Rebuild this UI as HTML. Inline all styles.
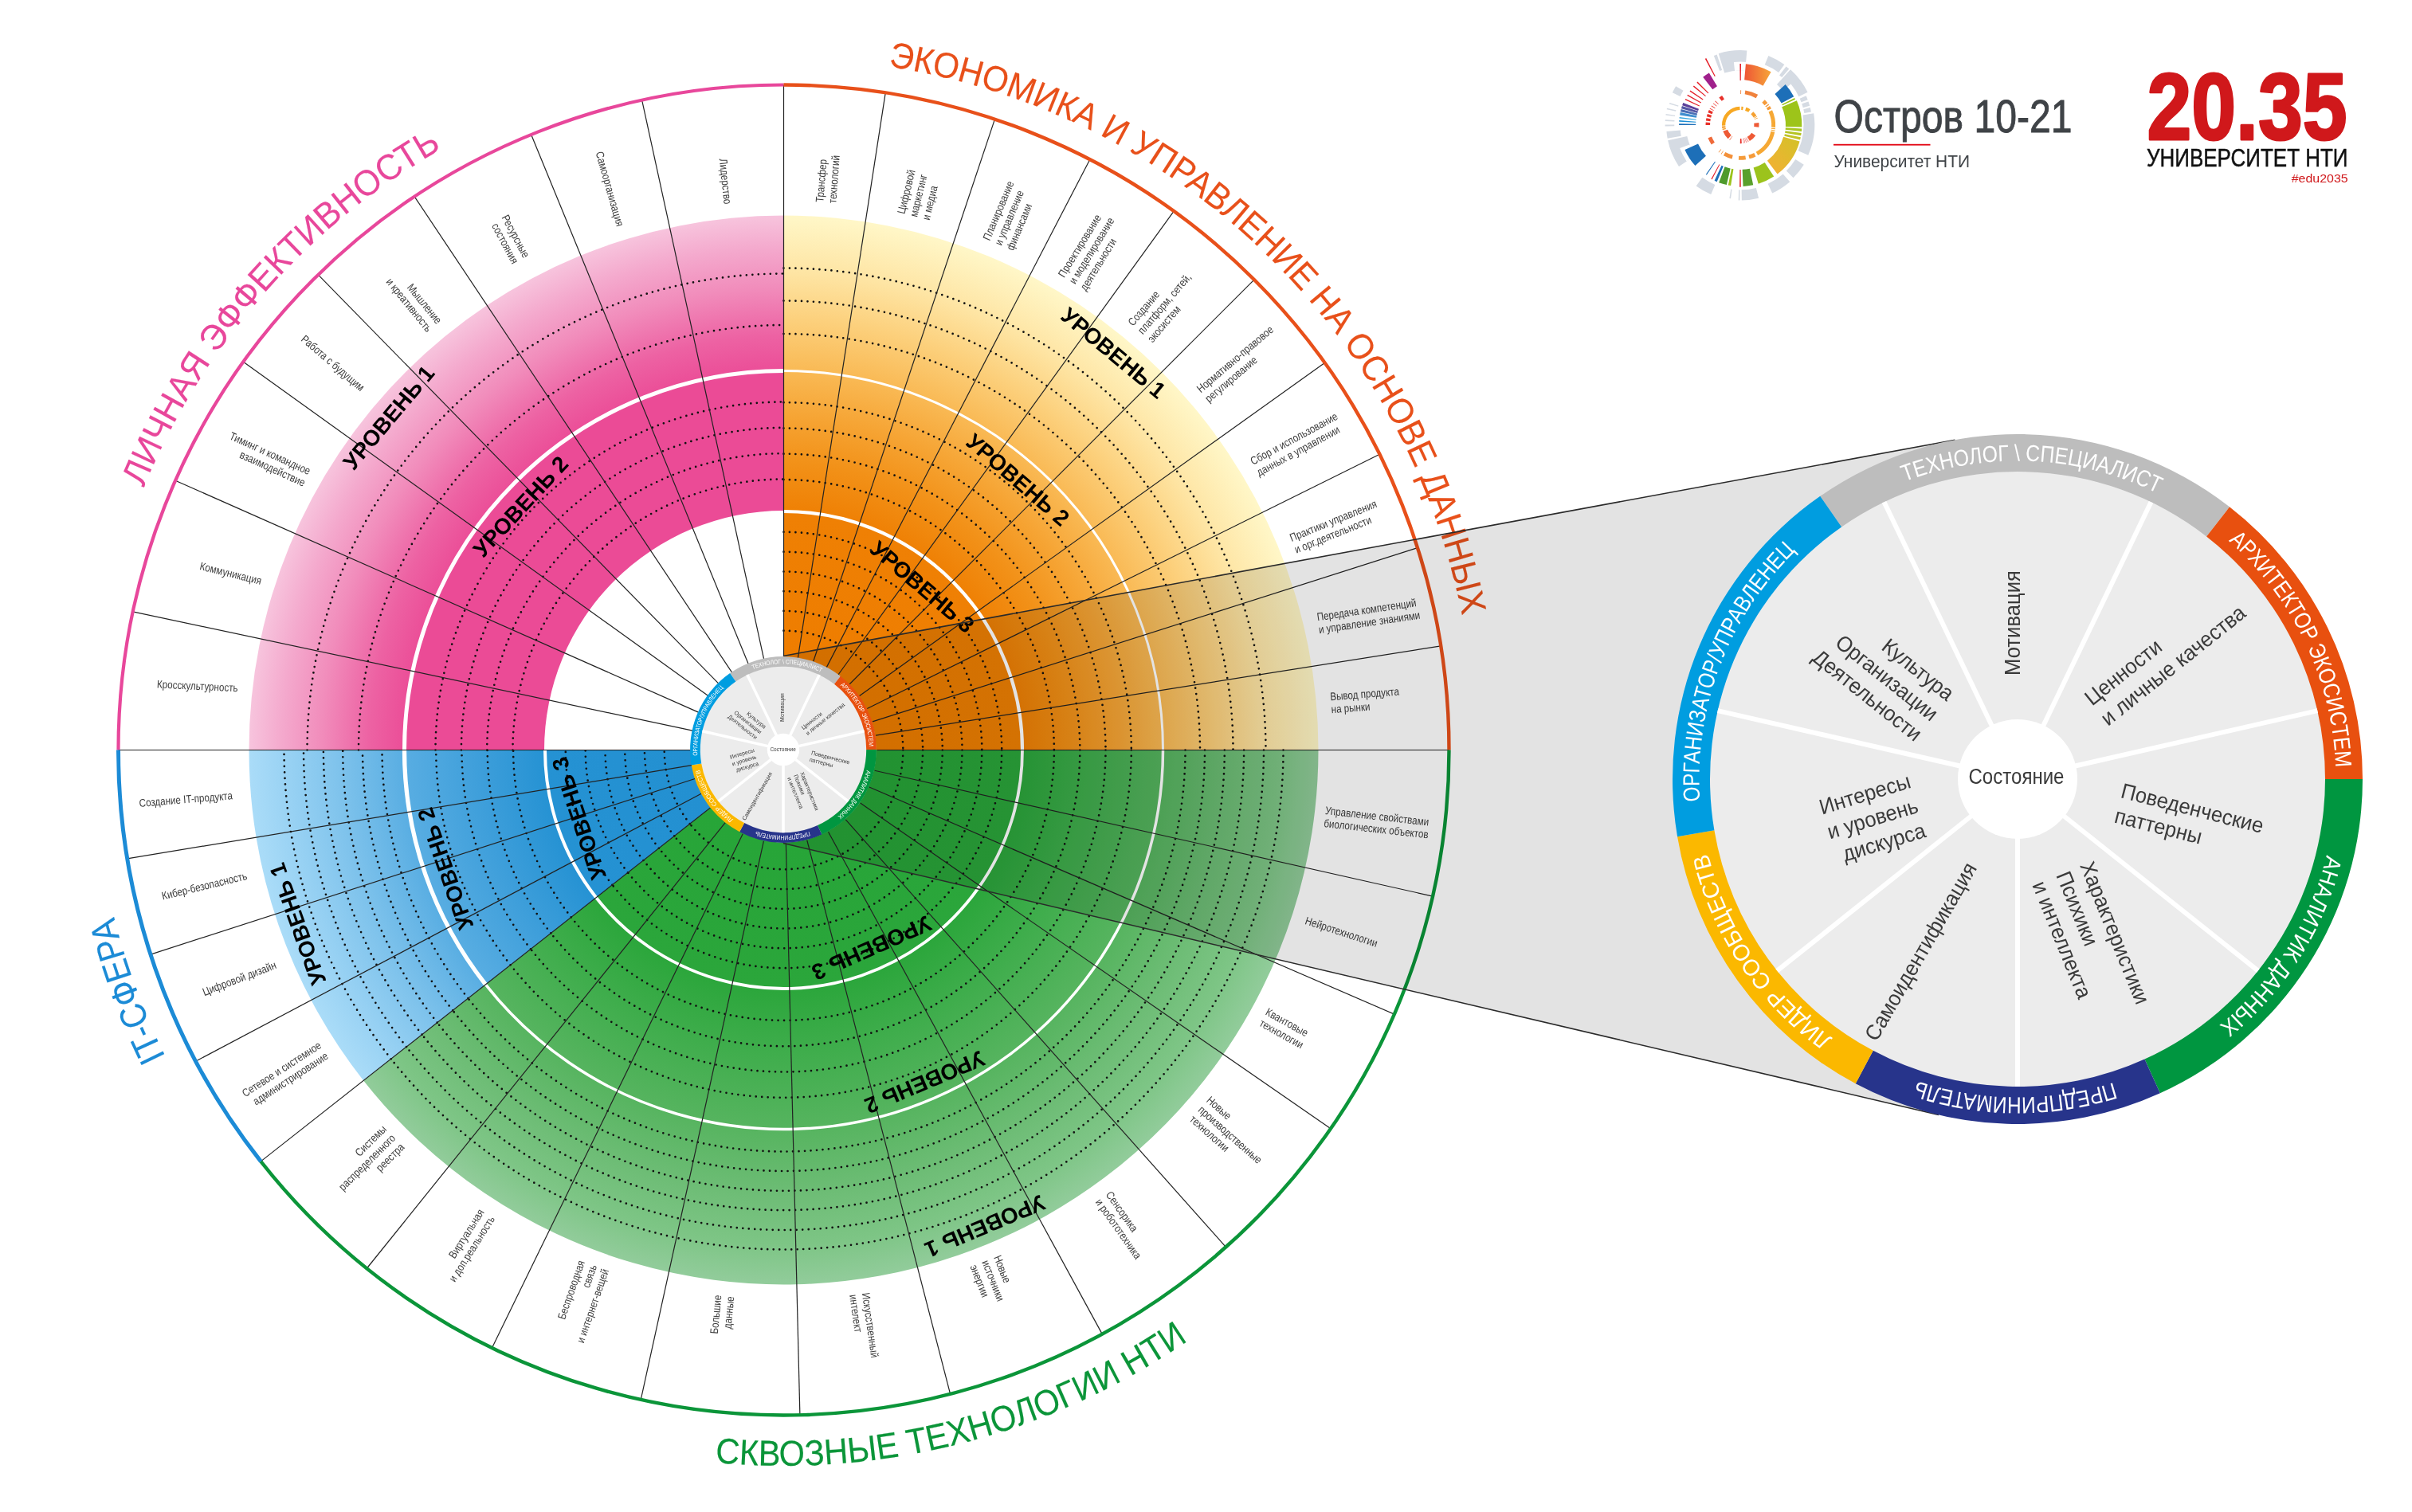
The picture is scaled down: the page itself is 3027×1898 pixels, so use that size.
<!DOCTYPE html>
<html lang="ru"><head><meta charset="utf-8"><title>Модель компетенций</title>
<style>html,body{margin:0;padding:0;background:#fff}svg{display:block;will-change:opacity}</style></head>
<body>
<svg width="3027" height="1898" viewBox="0 0 3027 1898">
<defs>
<radialGradient id="gp" gradientUnits="userSpaceOnUse" cx="983.5" cy="941.5" r="671">
<stop offset="0.4471" stop-color="#EB4B96"/>
<stop offset="0.7004" stop-color="#EB4B96"/>
<stop offset="0.7750" stop-color="#ED62A3"/>
<stop offset="0.8644" stop-color="#F18CBB"/>
<stop offset="0.9389" stop-color="#F4A9CD"/>
<stop offset="1.0000" stop-color="#F7C4DD"/>
</radialGradient>
<radialGradient id="go" gradientUnits="userSpaceOnUse" cx="983.5" cy="941.5" r="671">
<stop offset="0.1759" stop-color="#EE7D00"/>
<stop offset="0.4456" stop-color="#EF8004"/>
<stop offset="0.5365" stop-color="#F29118"/>
<stop offset="0.6259" stop-color="#F6A535"/>
<stop offset="0.7079" stop-color="#F9B954"/>
<stop offset="0.8048" stop-color="#FCD07C"/>
<stop offset="0.8942" stop-color="#FEE5A4"/>
<stop offset="1.0000" stop-color="#FFF7C8"/>
</radialGradient>
<radialGradient id="gg" gradientUnits="userSpaceOnUse" cx="983.5" cy="941.5" r="671">
<stop offset="0.1759" stop-color="#27A538"/>
<stop offset="0.4456" stop-color="#2BA63B"/>
<stop offset="0.5663" stop-color="#3FAD4C"/>
<stop offset="0.7079" stop-color="#56B45F"/>
<stop offset="0.8346" stop-color="#6EBD76"/>
<stop offset="0.9240" stop-color="#7DC585"/>
<stop offset="1.0000" stop-color="#92CC9B"/>
</radialGradient>
<radialGradient id="gb" gradientUnits="userSpaceOnUse" cx="983.5" cy="941.5" r="671">
<stop offset="0.1759" stop-color="#2390D1"/>
<stop offset="0.4456" stop-color="#2592D3"/>
<stop offset="0.5663" stop-color="#3D9EDA"/>
<stop offset="0.7079" stop-color="#58ADE2"/>
<stop offset="0.8346" stop-color="#7FC3EC"/>
<stop offset="0.9240" stop-color="#97D1F3"/>
<stop offset="1.0000" stop-color="#AADCF8"/>
</radialGradient>
</defs>
<g id="main">
<path d="M312.5 941.5A671 671 0 0 1 983.5 270.5L983.5 641A300.5 300.5 0 0 0 683 941.5Z" fill="url(#gp)"/>
<path d="M983.5 270.5A671 671 0 0 1 1654.5 941.5L1099.5 941.5A116 116 0 0 0 983.5 825.5Z" fill="url(#go)"/>
<path d="M1654.5 941.5A671 671 0 0 1 456.19 1356.45L892.34 1013.24A116 116 0 0 0 1099.5 941.5Z" fill="url(#gg)"/>
<path d="M456.19 1356.45A671 671 0 0 1 312.5 941.5L867.5 941.5A116 116 0 0 0 892.34 1013.24Z" fill="url(#gb)"/>
<path d="M385.5 941.5A598 598 0 0 1 983.5 343.5" fill="none" stroke="#111" stroke-width="2.7" stroke-linecap="round" stroke-dasharray="0 7.5"/>
<path d="M450 941.5A533.5 533.5 0 0 1 983.5 408" fill="none" stroke="#111" stroke-width="2.7" stroke-linecap="round" stroke-dasharray="0 7.5"/>
<path d="M546.5 941.5A437 437 0 0 1 983.5 504.5" fill="none" stroke="#111" stroke-width="2.7" stroke-linecap="round" stroke-dasharray="0 7.5"/>
<path d="M578.9 941.5A404.6 404.6 0 0 1 983.5 536.9" fill="none" stroke="#111" stroke-width="2.7" stroke-linecap="round" stroke-dasharray="0 7.5"/>
<path d="M611.2 941.5A372.3 372.3 0 0 1 983.5 569.2" fill="none" stroke="#111" stroke-width="2.7" stroke-linecap="round" stroke-dasharray="0 7.5"/>
<path d="M643.5 941.5A340 340 0 0 1 983.5 601.5" fill="none" stroke="#111" stroke-width="2.7" stroke-linecap="round" stroke-dasharray="0 7.5"/>
<path d="M983.5 336.5A605 605 0 0 1 1588.5 941.5" fill="none" stroke="#111" stroke-width="2.7" stroke-linecap="round" stroke-dasharray="0 7.5"/>
<path d="M983.5 377.5A564 564 0 0 1 1547.5 941.5" fill="none" stroke="#111" stroke-width="2.7" stroke-linecap="round" stroke-dasharray="0 7.5"/>
<path d="M983.5 419A522.5 522.5 0 0 1 1506 941.5" fill="none" stroke="#111" stroke-width="2.7" stroke-linecap="round" stroke-dasharray="0 7.5"/>
<path d="M983.5 505.2A436.3 436.3 0 0 1 1419.8 941.5" fill="none" stroke="#111" stroke-width="2.7" stroke-linecap="round" stroke-dasharray="0 7.5"/>
<path d="M983.5 537.5A404 404 0 0 1 1387.5 941.5" fill="none" stroke="#111" stroke-width="2.7" stroke-linecap="round" stroke-dasharray="0 7.5"/>
<path d="M983.5 569.7A371.8 371.8 0 0 1 1355.3 941.5" fill="none" stroke="#111" stroke-width="2.7" stroke-linecap="round" stroke-dasharray="0 7.5"/>
<path d="M983.5 602.1A339.4 339.4 0 0 1 1322.9 941.5" fill="none" stroke="#111" stroke-width="2.7" stroke-linecap="round" stroke-dasharray="0 7.5"/>
<path d="M983.5 667.8A273.7 273.7 0 0 1 1257.2 941.5" fill="none" stroke="#111" stroke-width="2.7" stroke-linecap="round" stroke-dasharray="0 7.5"/>
<path d="M983.5 692.7A248.8 248.8 0 0 1 1232.3 941.5" fill="none" stroke="#111" stroke-width="2.7" stroke-linecap="round" stroke-dasharray="0 7.5"/>
<path d="M983.5 717.5A224 224 0 0 1 1207.5 941.5" fill="none" stroke="#111" stroke-width="2.7" stroke-linecap="round" stroke-dasharray="0 7.5"/>
<path d="M983.5 742.2A199.3 199.3 0 0 1 1182.8 941.5" fill="none" stroke="#111" stroke-width="2.7" stroke-linecap="round" stroke-dasharray="0 7.5"/>
<path d="M983.5 766.9A174.6 174.6 0 0 1 1158.1 941.5" fill="none" stroke="#111" stroke-width="2.7" stroke-linecap="round" stroke-dasharray="0 7.5"/>
<path d="M983.5 791.7A149.8 149.8 0 0 1 1133.3 941.5" fill="none" stroke="#111" stroke-width="2.7" stroke-linecap="round" stroke-dasharray="0 7.5"/>
<path d="M1610.5 941.5A627 627 0 0 1 490.77 1329.24" fill="none" stroke="#111" stroke-width="2.7" stroke-linecap="round" stroke-dasharray="0 7.5"/>
<path d="M1586 941.5A602.5 602.5 0 0 1 510.02 1314.09" fill="none" stroke="#111" stroke-width="2.7" stroke-linecap="round" stroke-dasharray="0 7.5"/>
<path d="M1561.1 941.5A577.6 577.6 0 0 1 529.59 1298.69" fill="none" stroke="#111" stroke-width="2.7" stroke-linecap="round" stroke-dasharray="0 7.5"/>
<path d="M1536.8 941.5A553.3 553.3 0 0 1 548.69 1283.67" fill="none" stroke="#111" stroke-width="2.7" stroke-linecap="round" stroke-dasharray="0 7.5"/>
<path d="M1512 941.5A528.5 528.5 0 0 1 568.17 1268.33" fill="none" stroke="#111" stroke-width="2.7" stroke-linecap="round" stroke-dasharray="0 7.5"/>
<path d="M1487.5 941.5A504 504 0 0 1 587.43 1253.18" fill="none" stroke="#111" stroke-width="2.7" stroke-linecap="round" stroke-dasharray="0 7.5"/>
<path d="M1419.8 941.5A436.3 436.3 0 0 1 640.63 1211.31" fill="none" stroke="#111" stroke-width="2.7" stroke-linecap="round" stroke-dasharray="0 7.5"/>
<path d="M1387.5 941.5A404 404 0 0 1 666.01 1191.34" fill="none" stroke="#111" stroke-width="2.7" stroke-linecap="round" stroke-dasharray="0 7.5"/>
<path d="M1355.3 941.5A371.8 371.8 0 0 1 691.32 1171.42" fill="none" stroke="#111" stroke-width="2.7" stroke-linecap="round" stroke-dasharray="0 7.5"/>
<path d="M1322.9 941.5A339.4 339.4 0 0 1 716.78 1151.39" fill="none" stroke="#111" stroke-width="2.7" stroke-linecap="round" stroke-dasharray="0 7.5"/>
<path d="M1257.2 941.5A273.7 273.7 0 0 1 768.41 1110.76" fill="none" stroke="#111" stroke-width="2.7" stroke-linecap="round" stroke-dasharray="0 7.5"/>
<path d="M1232.3 941.5A248.8 248.8 0 0 1 787.98 1095.36" fill="none" stroke="#111" stroke-width="2.7" stroke-linecap="round" stroke-dasharray="0 7.5"/>
<path d="M1207.5 941.5A224 224 0 0 1 807.47 1080.02" fill="none" stroke="#111" stroke-width="2.7" stroke-linecap="round" stroke-dasharray="0 7.5"/>
<path d="M1182.8 941.5A199.3 199.3 0 0 1 826.88 1064.75" fill="none" stroke="#111" stroke-width="2.7" stroke-linecap="round" stroke-dasharray="0 7.5"/>
<path d="M1158.1 941.5A174.6 174.6 0 0 1 846.29 1049.47" fill="none" stroke="#111" stroke-width="2.7" stroke-linecap="round" stroke-dasharray="0 7.5"/>
<path d="M1133.3 941.5A149.8 149.8 0 0 1 865.78 1034.14" fill="none" stroke="#111" stroke-width="2.7" stroke-linecap="round" stroke-dasharray="0 7.5"/>
<path d="M490.77 1329.24A627 627 0 0 1 356.5 941.5" fill="none" stroke="#111" stroke-width="2.7" stroke-linecap="round" stroke-dasharray="0 7.5"/>
<path d="M510.02 1314.09A602.5 602.5 0 0 1 381 941.5" fill="none" stroke="#111" stroke-width="2.7" stroke-linecap="round" stroke-dasharray="0 7.5"/>
<path d="M529.59 1298.69A577.6 577.6 0 0 1 405.9 941.5" fill="none" stroke="#111" stroke-width="2.7" stroke-linecap="round" stroke-dasharray="0 7.5"/>
<path d="M548.69 1283.67A553.3 553.3 0 0 1 430.2 941.5" fill="none" stroke="#111" stroke-width="2.7" stroke-linecap="round" stroke-dasharray="0 7.5"/>
<path d="M568.17 1268.33A528.5 528.5 0 0 1 455 941.5" fill="none" stroke="#111" stroke-width="2.7" stroke-linecap="round" stroke-dasharray="0 7.5"/>
<path d="M587.43 1253.18A504 504 0 0 1 479.5 941.5" fill="none" stroke="#111" stroke-width="2.7" stroke-linecap="round" stroke-dasharray="0 7.5"/>
<path d="M640.63 1211.31A436.3 436.3 0 0 1 547.2 941.5" fill="none" stroke="#111" stroke-width="2.7" stroke-linecap="round" stroke-dasharray="0 7.5"/>
<path d="M666.01 1191.34A404 404 0 0 1 579.5 941.5" fill="none" stroke="#111" stroke-width="2.7" stroke-linecap="round" stroke-dasharray="0 7.5"/>
<path d="M691.32 1171.42A371.8 371.8 0 0 1 611.7 941.5" fill="none" stroke="#111" stroke-width="2.7" stroke-linecap="round" stroke-dasharray="0 7.5"/>
<path d="M716.78 1151.39A339.4 339.4 0 0 1 644.1 941.5" fill="none" stroke="#111" stroke-width="2.7" stroke-linecap="round" stroke-dasharray="0 7.5"/>
<path d="M768.41 1110.76A273.7 273.7 0 0 1 709.8 941.5" fill="none" stroke="#111" stroke-width="2.7" stroke-linecap="round" stroke-dasharray="0 7.5"/>
<path d="M787.98 1095.36A248.8 248.8 0 0 1 734.7 941.5" fill="none" stroke="#111" stroke-width="2.7" stroke-linecap="round" stroke-dasharray="0 7.5"/>
<path d="M807.47 1080.02A224 224 0 0 1 759.5 941.5" fill="none" stroke="#111" stroke-width="2.7" stroke-linecap="round" stroke-dasharray="0 7.5"/>
<path d="M826.88 1064.75A199.3 199.3 0 0 1 784.2 941.5" fill="none" stroke="#111" stroke-width="2.7" stroke-linecap="round" stroke-dasharray="0 7.5"/>
<path d="M846.29 1049.47A174.6 174.6 0 0 1 808.9 941.5" fill="none" stroke="#111" stroke-width="2.7" stroke-linecap="round" stroke-dasharray="0 7.5"/>
<path d="M865.78 1034.14A149.8 149.8 0 0 1 833.7 941.5" fill="none" stroke="#111" stroke-width="2.7" stroke-linecap="round" stroke-dasharray="0 7.5"/>
<path d="M507.5 941.5A476 476 0 0 1 983.5 465.5" fill="none" stroke="#fff" stroke-width="5"/>
<path d="M983.5 465.5A476 476 0 0 1 1459.5 941.5" fill="none" stroke="#fff" stroke-width="3"/>
<path d="M1459.5 941.5A476 476 0 0 1 609.43 1235.86" fill="none" stroke="#fff" stroke-width="3.5"/>
<path d="M609.43 1235.86A476 476 0 0 1 507.5 941.5" fill="none" stroke="#fff" stroke-width="5.3"/>
<path d="M983.5 642A299.5 299.5 0 0 1 1283 941.5" fill="none" stroke="#fff" stroke-width="4.2"/>
<path d="M1283 941.5A299.5 299.5 0 0 1 748.14 1126.71" fill="none" stroke="#fff" stroke-width="3.8"/>
<path d="M748.14 1126.71A299.5 299.5 0 0 1 684 941.5" fill="none" stroke="#fff" stroke-width="4"/>
<line x1="866.5" y1="941.5" x2="148.5" y2="941.5" stroke="#222" stroke-width="1.2"/>
<line x1="869.06" y1="917.17" x2="166.75" y2="767.89" stroke="#222" stroke-width="1.2"/>
<line x1="876.53" y1="894.1" x2="220.1" y2="603.21" stroke="#222" stroke-width="1.2"/>
<line x1="888.49" y1="873.23" x2="305.41" y2="454.24" stroke="#222" stroke-width="1.2"/>
<line x1="901.64" y1="857.91" x2="399.28" y2="344.92" stroke="#222" stroke-width="1.2"/>
<line x1="918.58" y1="844.16" x2="520.2" y2="246.82" stroke="#222" stroke-width="1.2"/>
<line x1="939.1" y1="833.25" x2="666.65" y2="168.95" stroke="#222" stroke-width="1.2"/>
<line x1="958.58" y1="827.19" x2="805.62" y2="125.67" stroke="#222" stroke-width="1.2"/>
<line x1="983.5" y1="824.5" x2="983.5" y2="106.5" stroke="#222" stroke-width="1.2"/>
<line x1="1001.4" y1="825.88" x2="1111.24" y2="116.33" stroke="#222" stroke-width="1.2"/>
<line x1="1020.62" y1="830.55" x2="1248.45" y2="149.65" stroke="#222" stroke-width="1.2"/>
<line x1="1037.34" y1="837.63" x2="1367.77" y2="200.17" stroke="#222" stroke-width="1.2"/>
<line x1="1052.11" y1="846.73" x2="1473.12" y2="265.12" stroke="#222" stroke-width="1.2"/>
<line x1="1066.23" y1="858.77" x2="1573.93" y2="351.07" stroke="#222" stroke-width="1.2"/>
<line x1="1078.63" y1="873.39" x2="1662.44" y2="455.43" stroke="#222" stroke-width="1.2"/>
<line x1="1088.3" y1="889.48" x2="1731.42" y2="570.23" stroke="#222" stroke-width="1.2"/>
<line x1="1094.96" y1="905.93" x2="1778.97" y2="687.63" stroke="#222" stroke-width="1.2"/>
<line x1="1099.06" y1="923.2" x2="1808.22" y2="810.88" stroke="#222" stroke-width="1.2"/>
<line x1="1100.5" y1="941.5" x2="1818.5" y2="941.5" stroke="#222" stroke-width="1.2"/>
<line x1="1097.64" y1="967.22" x2="1798.07" y2="1125.07" stroke="#222" stroke-width="1.2"/>
<line x1="1090.88" y1="987.97" x2="1749.83" y2="1273.12" stroke="#222" stroke-width="1.2"/>
<line x1="1079.69" y1="1008.11" x2="1669.99" y2="1416.85" stroke="#222" stroke-width="1.2"/>
<line x1="1061.26" y1="1028.92" x2="1538.42" y2="1565.43" stroke="#222" stroke-width="1.2"/>
<line x1="1039.51" y1="1044.22" x2="1383.21" y2="1674.62" stroke="#222" stroke-width="1.2"/>
<line x1="1012.79" y1="1054.77" x2="1192.57" y2="1749.9" stroke="#222" stroke-width="1.2"/>
<line x1="986.36" y1="1058.47" x2="1003.9" y2="1776.25" stroke="#222" stroke-width="1.2"/>
<line x1="958.38" y1="1055.77" x2="804.2" y2="1757.02" stroke="#222" stroke-width="1.2"/>
<line x1="932.21" y1="1046.66" x2="617.46" y2="1691.99" stroke="#222" stroke-width="1.2"/>
<line x1="910.19" y1="1032.68" x2="460.29" y2="1592.25" stroke="#222" stroke-width="1.2"/>
<line x1="891.55" y1="1013.85" x2="327.31" y2="1457.87" stroke="#222" stroke-width="1.2"/>
<line x1="880.1" y1="996.25" x2="245.56" y2="1332.22" stroke="#222" stroke-width="1.2"/>
<line x1="872.16" y1="977.46" x2="188.92" y2="1198.14" stroke="#222" stroke-width="1.2"/>
<line x1="868.07" y1="960.61" x2="159.71" y2="1077.88" stroke="#222" stroke-width="1.2"/>
<path d="M148.5 941.5A835 835 0 0 1 983.5 106.5" fill="none" stroke="#E8479B" stroke-width="4.2"/>
<path d="M983.5 106.5A835 835 0 0 1 1818.5 941.5" fill="none" stroke="#E8501A" stroke-width="4.4"/>
<path d="M1818.5 941.5A835 835 0 0 1 327.31 1457.87" fill="none" stroke="#0B9539" stroke-width="4.4"/>
<path d="M327.31 1457.87A835 835 0 0 1 148.5 941.5" fill="none" stroke="#1C8BD6" stroke-width="5"/>
<g transform="translate(298.27 869.48) rotate(362.8) translate(0 -6) scale(0.83 1)">
<text x="0" y="4.9" text-anchor="end" font-size="14" fill="#3c3c3c" font-family="'Liberation Sans', sans-serif">Кросскультурность</text>
</g>
<g transform="translate(328.04 729.16) rotate(373.95) translate(0 0) scale(0.83 1)">
<text x="0" y="4.9" text-anchor="end" font-size="14" fill="#3c3c3c" font-family="'Liberation Sans', sans-serif">Коммуникация</text>
</g>
<g transform="translate(385.61 599.08) rotate(384.5) translate(0 0) scale(0.83 1)">
<text x="0" y="-3.1" text-anchor="end" font-size="14" fill="#3c3c3c" font-family="'Liberation Sans', sans-serif">Тиминг и командное</text>
<text x="0" y="12.9" text-anchor="end" font-size="14" fill="#3c3c3c" font-family="'Liberation Sans', sans-serif">взаимодействие</text>
</g>
<g transform="translate(460.75 492.66) rotate(400.65) translate(-7 0) scale(0.83 1)">
<text x="0" y="4.9" text-anchor="end" font-size="14" fill="#3c3c3c" font-family="'Liberation Sans', sans-serif">Работа с будущим</text>
</g>
<g transform="translate(549.43 406.43) rotate(410.95) translate(0 5) scale(0.83 1)">
<text x="0" y="-3.1" text-anchor="end" font-size="14" fill="#3c3c3c" font-family="'Liberation Sans', sans-serif">Мышление</text>
<text x="0" y="12.9" text-anchor="end" font-size="14" fill="#3c3c3c" font-family="'Liberation Sans', sans-serif">и креативность</text>
</g>
<g transform="translate(660.03 333.15) rotate(422) translate(-9 2) scale(0.83 1)">
<text x="0" y="-3.1" text-anchor="end" font-size="14" fill="#3c3c3c" font-family="'Liberation Sans', sans-serif">Ресурсные</text>
<text x="0" y="12.9" text-anchor="end" font-size="14" fill="#3c3c3c" font-family="'Liberation Sans', sans-serif">состояния</text>
</g>
<g transform="translate(778.61 283.67) rotate(434.2) translate(0 0) scale(0.83 1)">
<text x="0" y="4.9" text-anchor="end" font-size="14" fill="#3c3c3c" font-family="'Liberation Sans', sans-serif">Самоорганизация</text>
</g>
<g transform="translate(909.69 256.47) rotate(443.85) translate(0 -4) scale(0.83 1)">
<text x="0" y="4.9" text-anchor="end" font-size="14" fill="#3c3c3c" font-family="'Liberation Sans', sans-serif">Лидерство</text>
</g>
<g transform="translate(1036.36 254.53) rotate(-85.6) translate(0 0) scale(0.83 1)">
<text x="0" y="-3.1" text-anchor="start" font-size="14" fill="#3c3c3c" font-family="'Liberation Sans', sans-serif">Трансфер</text>
<text x="0" y="12.9" text-anchor="start" font-size="14" fill="#3c3c3c" font-family="'Liberation Sans', sans-serif">технологий</text>
</g>
<g transform="translate(1146.1 271.96) rotate(-76.35) translate(0 0) scale(0.83 1)">
<text x="0" y="-11.1" text-anchor="start" font-size="14" fill="#3c3c3c" font-family="'Liberation Sans', sans-serif">Цифровой</text>
<text x="0" y="4.9" text-anchor="start" font-size="14" fill="#3c3c3c" font-family="'Liberation Sans', sans-serif">маркетинг</text>
<text x="0" y="20.9" text-anchor="start" font-size="14" fill="#3c3c3c" font-family="'Liberation Sans', sans-serif">и медиа</text>
</g>
<g transform="translate(1252.16 307.04) rotate(-67.05) translate(0 0) scale(0.83 1)">
<text x="0" y="-11.1" text-anchor="start" font-size="14" fill="#3c3c3c" font-family="'Liberation Sans', sans-serif">Планирование</text>
<text x="0" y="4.9" text-anchor="start" font-size="14" fill="#3c3c3c" font-family="'Liberation Sans', sans-serif">и управление</text>
<text x="0" y="20.9" text-anchor="start" font-size="14" fill="#3c3c3c" font-family="'Liberation Sans', sans-serif">финансами</text>
</g>
<g transform="translate(1345.04 354.98) rotate(-58.35) translate(0 0) scale(0.83 1)">
<text x="0" y="-11.1" text-anchor="start" font-size="14" fill="#3c3c3c" font-family="'Liberation Sans', sans-serif">Проектирование</text>
<text x="0" y="4.9" text-anchor="start" font-size="14" fill="#3c3c3c" font-family="'Liberation Sans', sans-serif">и моделирование</text>
<text x="0" y="20.9" text-anchor="start" font-size="14" fill="#3c3c3c" font-family="'Liberation Sans', sans-serif">деятельности</text>
</g>
<g transform="translate(1430.51 417.19) rotate(-49.55) translate(0 0) scale(0.83 1)">
<text x="0" y="-11.1" text-anchor="start" font-size="14" fill="#3c3c3c" font-family="'Liberation Sans', sans-serif">Создание</text>
<text x="0" y="4.9" text-anchor="start" font-size="14" fill="#3c3c3c" font-family="'Liberation Sans', sans-serif">платформ, сетей,</text>
<text x="0" y="20.9" text-anchor="start" font-size="14" fill="#3c3c3c" font-family="'Liberation Sans', sans-serif">экосистем</text>
</g>
<g transform="translate(1508.98 495.86) rotate(-40.3) translate(0 0) scale(0.83 1)">
<text x="0" y="-3.1" text-anchor="start" font-size="14" fill="#3c3c3c" font-family="'Liberation Sans', sans-serif">Нормативно-правовое</text>
<text x="0" y="12.9" text-anchor="start" font-size="14" fill="#3c3c3c" font-family="'Liberation Sans', sans-serif">регулирование</text>
</g>
<g transform="translate(1574.09 586.64) rotate(-28.5) translate(0 0) scale(0.83 1)">
<text x="0" y="-3.1" text-anchor="start" font-size="14" fill="#3c3c3c" font-family="'Liberation Sans', sans-serif">Сбор и использование</text>
<text x="0" y="12.9" text-anchor="start" font-size="14" fill="#3c3c3c" font-family="'Liberation Sans', sans-serif">данных в управлении</text>
</g>
<g transform="translate(1622.1 682.84) rotate(-22.05) translate(0 0) scale(0.83 1)">
<text x="0" y="-3.1" text-anchor="start" font-size="14" fill="#3c3c3c" font-family="'Liberation Sans', sans-serif">Практики управления</text>
<text x="0" y="12.9" text-anchor="start" font-size="14" fill="#3c3c3c" font-family="'Liberation Sans', sans-serif">и орг.деятельности</text>
</g>
<g transform="translate(1653.88 782.41) rotate(-8.35) translate(0 0) scale(0.83 1)">
<text x="0" y="-3.1" text-anchor="start" font-size="14" fill="#3c3c3c" font-family="'Liberation Sans', sans-serif">Передача компетенций</text>
<text x="0" y="12.9" text-anchor="start" font-size="14" fill="#3c3c3c" font-family="'Liberation Sans', sans-serif">и управление знаниями</text>
</g>
<g transform="translate(1670.38 887.44) rotate(-4.5) translate(0 -5) scale(0.83 1)">
<text x="0" y="-3.1" text-anchor="start" font-size="14" fill="#3c3c3c" font-family="'Liberation Sans', sans-serif">Вывод продукта</text>
<text x="0" y="12.9" text-anchor="start" font-size="14" fill="#3c3c3c" font-family="'Liberation Sans', sans-serif">на рынки</text>
</g>
<g transform="translate(1668.27 1017.7) rotate(6.35) translate(-5 8) scale(0.83 1)">
<text x="0" y="-3.1" text-anchor="start" font-size="14" fill="#3c3c3c" font-family="'Liberation Sans', sans-serif">Управление свойствами</text>
<text x="0" y="12.9" text-anchor="start" font-size="14" fill="#3c3c3c" font-family="'Liberation Sans', sans-serif">биологических объектов</text>
</g>
<g transform="translate(1638.59 1154.98) rotate(18.05) translate(0 0) scale(0.83 1)">
<text x="0" y="4.9" text-anchor="start" font-size="14" fill="#3c3c3c" font-family="'Liberation Sans', sans-serif">Нейротехнологии</text>
</g>
<g transform="translate(1585.82 1276.06) rotate(29.05) translate(0 0) scale(0.83 1)">
<text x="0" y="-3.1" text-anchor="start" font-size="14" fill="#3c3c3c" font-family="'Liberation Sans', sans-serif">Квантовые</text>
<text x="0" y="12.9" text-anchor="start" font-size="14" fill="#3c3c3c" font-family="'Liberation Sans', sans-serif">технологии</text>
</g>
<g transform="translate(1499.33 1398.27) rotate(41.53) translate(0 -10) scale(0.83 1)">
<text x="0" y="-11.1" text-anchor="start" font-size="14" fill="#3c3c3c" font-family="'Liberation Sans', sans-serif">Новые</text>
<text x="0" y="4.9" text-anchor="start" font-size="14" fill="#3c3c3c" font-family="'Liberation Sans', sans-serif">производственные</text>
<text x="0" y="20.9" text-anchor="start" font-size="14" fill="#3c3c3c" font-family="'Liberation Sans', sans-serif">технологии</text>
</g>
<g transform="translate(1379.92 1505.03) rotate(54.88) translate(0 -6) scale(0.83 1)">
<text x="0" y="-3.1" text-anchor="start" font-size="14" fill="#3c3c3c" font-family="'Liberation Sans', sans-serif">Сенсорика</text>
<text x="0" y="12.9" text-anchor="start" font-size="14" fill="#3c3c3c" font-family="'Liberation Sans', sans-serif">и робототехника</text>
</g>
<g transform="translate(1236.58 1582.34) rotate(68.45) translate(0 0) scale(0.83 1)">
<text x="0" y="-11.1" text-anchor="start" font-size="14" fill="#3c3c3c" font-family="'Liberation Sans', sans-serif">Новые</text>
<text x="0" y="4.9" text-anchor="start" font-size="14" fill="#3c3c3c" font-family="'Liberation Sans', sans-serif">источники</text>
<text x="0" y="20.9" text-anchor="start" font-size="14" fill="#3c3c3c" font-family="'Liberation Sans', sans-serif">энергии</text>
</g>
<g transform="translate(1078.79 1623.88) rotate(82.05) translate(0 0) scale(0.83 1)">
<text x="0" y="-3.1" text-anchor="start" font-size="14" fill="#3c3c3c" font-family="'Liberation Sans', sans-serif">Искусственный</text>
<text x="0" y="12.9" text-anchor="start" font-size="14" fill="#3c3c3c" font-family="'Liberation Sans', sans-serif">интелект</text>
</g>
<g transform="translate(917.46 1627.33) rotate(275.5) translate(0 -9) scale(0.83 1)">
<text x="0" y="-3.1" text-anchor="end" font-size="14" fill="#3c3c3c" font-family="'Liberation Sans', sans-serif">Большие</text>
<text x="0" y="12.9" text-anchor="end" font-size="14" fill="#3c3c3c" font-family="'Liberation Sans', sans-serif">данные</text>
</g>
<g transform="translate(756.91 1592.18) rotate(289.2) translate(0 -13) scale(0.83 1)">
<text x="0" y="-11.1" text-anchor="end" font-size="14" fill="#3c3c3c" font-family="'Liberation Sans', sans-serif">Беспроводная</text>
<text x="0" y="4.9" text-anchor="end" font-size="14" fill="#3c3c3c" font-family="'Liberation Sans', sans-serif">связь</text>
<text x="0" y="20.9" text-anchor="end" font-size="14" fill="#3c3c3c" font-family="'Liberation Sans', sans-serif">и интернет-вещей</text>
</g>
<g transform="translate(614.32 1523.24) rotate(302.4) translate(-2 -3) scale(0.83 1)">
<text x="0" y="-3.1" text-anchor="end" font-size="14" fill="#3c3c3c" font-family="'Liberation Sans', sans-serif">Виртуальная</text>
<text x="0" y="12.9" text-anchor="end" font-size="14" fill="#3c3c3c" font-family="'Liberation Sans', sans-serif">и доп.реальность</text>
</g>
<g transform="translate(493.76 1426.14) rotate(315.3) translate(0 0) scale(0.83 1)">
<text x="0" y="-11.1" text-anchor="end" font-size="14" fill="#3c3c3c" font-family="'Liberation Sans', sans-serif">Системы</text>
<text x="0" y="4.9" text-anchor="end" font-size="14" fill="#3c3c3c" font-family="'Liberation Sans', sans-serif">распределенного</text>
<text x="0" y="20.9" text-anchor="end" font-size="14" fill="#3c3c3c" font-family="'Liberation Sans', sans-serif">реестра</text>
</g>
<g transform="translate(405.98 1317.26) rotate(326.95) translate(0 0) scale(0.83 1)">
<text x="0" y="-3.1" text-anchor="end" font-size="14" fill="#3c3c3c" font-family="'Liberation Sans', sans-serif">Сетевое и системное</text>
<text x="0" y="12.9" text-anchor="end" font-size="14" fill="#3c3c3c" font-family="'Liberation Sans', sans-serif">администрирование</text>
</g>
<g transform="translate(348.8 1209.61) rotate(339.1) translate(-3 0) scale(0.83 1)">
<text x="0" y="4.9" text-anchor="end" font-size="14" fill="#3c3c3c" font-family="'Liberation Sans', sans-serif">Цифровой дизайн</text>
</g>
<g transform="translate(313.96 1104.1) rotate(346.35) translate(-3 -6) scale(0.83 1)">
<text x="0" y="4.9" text-anchor="end" font-size="14" fill="#3c3c3c" font-family="'Liberation Sans', sans-serif">Кибер-безопасность</text>
</g>
<g transform="translate(296.82 997.96) rotate(355.3) translate(-5 0) scale(0.83 1)">
<text x="0" y="4.9" text-anchor="end" font-size="14" fill="#3c3c3c" font-family="'Liberation Sans', sans-serif">Создание IT-продукта</text>
</g>
<text transform="translate(487.83 524.11) rotate(310.1)" x="0" y="9.8" text-anchor="middle" font-size="28" font-weight="bold" fill="#000" font-family="'Liberation Sans', sans-serif">УРОВЕНЬ 1</text>
<text transform="translate(653.32 635.75) rotate(312.8)" x="0" y="9.8" text-anchor="middle" font-size="28" font-weight="bold" fill="#000" font-family="'Liberation Sans', sans-serif">УРОВЕНЬ 2</text>
<text transform="translate(1397.42 442.93) rotate(39.7)" x="0" y="9.8" text-anchor="middle" font-size="28" font-weight="bold" fill="#000" font-family="'Liberation Sans', sans-serif">УРОВЕНЬ 1</text>
<text transform="translate(1277.48 602.12) rotate(40.9)" x="0" y="9.8" text-anchor="middle" font-size="28" font-weight="bold" fill="#000" font-family="'Liberation Sans', sans-serif">УРОВЕНЬ 2</text>
<text transform="translate(1157.84 736.65) rotate(40.4)" x="0" y="9.8" text-anchor="middle" font-size="28" font-weight="bold" fill="#000" font-family="'Liberation Sans', sans-serif">УРОВЕНЬ 3</text>
<text transform="translate(373.43 1159.94) rotate(250.3)" x="0" y="9.8" text-anchor="middle" font-size="28" font-weight="bold" fill="#000" font-family="'Liberation Sans', sans-serif">УРОВЕНЬ 1</text>
<text transform="translate(558.92 1090.6) rotate(250.65)" x="0" y="9.8" text-anchor="middle" font-size="28" font-weight="bold" fill="#000" font-family="'Liberation Sans', sans-serif">УРОВЕНЬ 2</text>
<text transform="translate(726.43 1027.27) rotate(251.55)" x="0" y="9.8" text-anchor="middle" font-size="28" font-weight="bold" fill="#000" font-family="'Liberation Sans', sans-serif">УРОВЕНЬ 3</text>
<text transform="translate(1236.04 1539.35) rotate(157.1)" x="0" y="9.8" text-anchor="middle" font-size="28" font-weight="bold" fill="#000" font-family="'Liberation Sans', sans-serif">УРОВЕНЬ 1</text>
<text transform="translate(1160.5 1358.49) rotate(157)" x="0" y="9.8" text-anchor="middle" font-size="28" font-weight="bold" fill="#000" font-family="'Liberation Sans', sans-serif">УРОВЕНЬ 2</text>
<text transform="translate(1093.7 1190.18) rotate(156.1)" x="0" y="9.8" text-anchor="middle" font-size="28" font-weight="bold" fill="#000" font-family="'Liberation Sans', sans-serif">УРОВЕНЬ 3</text>
<path id="t1" d="M180.42 612.13A868 868 0 0 1 554.76 186.78" fill="none"/>
<text font-size="45" fill="#E8479B" stroke="#E8479B" stroke-width="0.15" font-family="'Liberation Sans', sans-serif"><textPath href="#t1" textLength="577.19" lengthAdjust="spacingAndGlyphs">ЛИЧНАЯ ЭФФЕКТИВНОСТЬ</textPath></text>
<path id="t2" d="M1114.79 83.49A868 868 0 0 1 1834.97 772.9" fill="none"/>
<text font-size="45" fill="#E8501A" stroke="#E8501A" stroke-width="0.15" font-family="'Liberation Sans', sans-serif"><textPath href="#t2" textLength="1061.98" lengthAdjust="spacingAndGlyphs">ЭКОНОМИКА И УПРАВЛЕНИЕ НА ОСНОВЕ ДАННЫХ</textPath></text>
<path id="t3" d="M897.38 1835.86A898.5 898.5 0 0 0 1491.12 1682.86" fill="none"/>
<text font-size="45" fill="#0B9539" stroke="#0B9539" stroke-width="0.15" font-family="'Liberation Sans', sans-serif"><textPath href="#t3" textLength="625.7" lengthAdjust="spacingAndGlyphs">СКВОЗНЫЕ ТЕХНОЛОГИИ НТИ</textPath></text>
<path id="t4" d="M207.81 1326.55A866 866 0 0 1 143.22 1151" fill="none"/>
<text font-size="46" fill="#1C8BD6" stroke="#1C8BD6" stroke-width="0.15" font-family="'Liberation Sans', sans-serif"><textPath href="#t4" textLength="187.42" lengthAdjust="spacingAndGlyphs">IT-СФЕРА</textPath></text>
</g>
<path d="M983 823.5L2453.43 552.19L2432.87 1399.5L983 1058.5Z" fill="#000" fill-opacity="0.11"/>
<path d="M983 823.5L2453.43 552.19M2432.87 1399.5L983 1058.5" stroke="#2a2a2a" stroke-width="1.6" fill="none"/>
<defs><g id="spokes" style="stroke:#fff;stroke-width:var(--sw)">
<line x1="31.67" y1="-65.77" x2="167.48" y2="-347.77"/>
<line x1="71.17" y1="-16.24" x2="376.32" y2="-85.89"/>
<line x1="57.07" y1="45.51" x2="301.79" y2="240.67"/>
<line x1="0" y1="73" x2="0" y2="386"/>
<line x1="-57.07" y1="45.51" x2="-301.79" y2="240.67"/>
<line x1="-71.17" y1="-16.24" x2="-376.32" y2="-85.89"/>
<line x1="-31.67" y1="-65.77" x2="-167.48" y2="-347.77"/>
</g></defs>
<defs><g id="wheel">
<circle r="387" fill="#ECECEC"/>
<path d="M-247.74 -355.13A433 433 0 0 1 265.99 -341.67L237.11 -304.59A386 386 0 0 0 -220.85 -316.58Z" fill="#BDBDBD"/>
<path d="M265.99 -341.67A433 433 0 0 1 433 -0L386 -0A386 386 0 0 0 237.11 -304.59Z" fill="#E8500F"/>
<path d="M433 -0A433 433 0 0 1 178.87 394.33L159.46 351.52A386 386 0 0 0 386 -0Z" fill="#009640"/>
<path d="M178.87 394.33A433 433 0 0 1 -203.28 382.32L-181.22 340.82A386 386 0 0 0 159.46 351.52Z" fill="#27348B"/>
<path d="M-203.28 382.32A433 433 0 0 1 -426.94 72.21L-380.59 64.37A386 386 0 0 0 -181.22 340.82Z" fill="#FBB800"/>
<path d="M-426.94 72.21A433 433 0 0 1 -247.74 -355.13L-220.85 -316.58A386 386 0 0 0 -380.59 64.37Z" fill="#009DE0"/>
<use href="#spokes"/>
<circle r="75" fill="#fff"/>
<path id="rp0" d="M-141.87 -373.46A399.5 399.5 0 0 1 187.86 -352.57" fill="none"/>
<text font-size="29" fill="#fff" font-family="'Liberation Sans', sans-serif"><textPath href="#rp0" textLength="326.67" lengthAdjust="spacingAndGlyphs">ТЕХНОЛОГ \ СПЕЦИАЛИСТ</textPath></text>
<path id="rp1" d="M264.72 -299.21A399.5 399.5 0 0 1 399.5 -0.7" fill="none"/>
<text font-size="29" fill="#fff" font-family="'Liberation Sans', sans-serif"><textPath href="#rp1" textLength="323.53" lengthAdjust="spacingAndGlyphs">АРХИТЕКТОР ЭКОСИСТЕМ</textPath></text>
<path id="rp2" d="M387.97 95.29A399.5 399.5 0 0 1 242.09 317.79" fill="none"/>
<text font-size="29" fill="#fff" font-family="'Liberation Sans', sans-serif"><textPath href="#rp2" textLength="257.29" lengthAdjust="spacingAndGlyphs">АНАЛИТИК ДАННЫХ</textPath></text>
<path id="rp3" d="M120.8 380.8A399.5 399.5 0 0 1 -139.25 374.44" fill="none"/>
<text font-size="29" fill="#fff" font-family="'Liberation Sans', sans-serif"><textPath href="#rp3" textLength="251.01" lengthAdjust="spacingAndGlyphs">ПРЕДПРИНИМАТЕЛЬ</textPath></text>
<path id="rp4" d="M-231.99 325.24A399.5 399.5 0 0 1 -391.48 79.65" fill="none"/>
<text font-size="29" fill="#fff" font-family="'Liberation Sans', sans-serif"><textPath href="#rp4" textLength="285.88" lengthAdjust="spacingAndGlyphs">ЛИДЕР СООБЩЕСТВ</textPath></text>
<path id="rp5" d="M-398.53 27.87A399.5 399.5 0 0 1 -268.35 -295.95" fill="none"/>
<text font-size="29" fill="#fff" font-family="'Liberation Sans', sans-serif"><textPath href="#rp5" textLength="347.24" lengthAdjust="spacingAndGlyphs">ОРГАНИЗАТОР/УПРАВЛЕНЕЦ</textPath></text>
<g transform="translate(0 -130) rotate(-90) scale(0.95 1)">
<text x="0" y="3" text-anchor="start" font-size="27" fill="#3a3a3a" font-family="'Liberation Sans', sans-serif">Мотивация</text>
</g>
<g transform="translate(101.64 -81.05) rotate(-38.57) scale(0.95 1)">
<text x="0" y="-13.2" text-anchor="start" font-size="27" fill="#3a3a3a" font-family="'Liberation Sans', sans-serif">Ценности</text>
<text x="0" y="19.2" text-anchor="start" font-size="27" fill="#3a3a3a" font-family="'Liberation Sans', sans-serif">и личные качества</text>
</g>
<g transform="translate(126.74 28.93) rotate(14.26) scale(0.95 1)">
<text x="0" y="-6.2" text-anchor="start" font-size="27" fill="#3a3a3a" font-family="'Liberation Sans', sans-serif">Поведенческие</text>
<text x="0" y="26.2" text-anchor="start" font-size="27" fill="#3a3a3a" font-family="'Liberation Sans', sans-serif">паттерны</text>
</g>
<g transform="translate(56.4 117.13) rotate(67.99) scale(0.95 1)">
<text x="0" y="-23.4" text-anchor="start" font-size="27" fill="#3a3a3a" font-family="'Liberation Sans', sans-serif">Характеристики</text>
<text x="0" y="9" text-anchor="start" font-size="27" fill="#3a3a3a" font-family="'Liberation Sans', sans-serif">Психики</text>
<text x="0" y="41.4" text-anchor="start" font-size="27" fill="#3a3a3a" font-family="'Liberation Sans', sans-serif">и интеллекта</text>
</g>
<g transform="translate(-52.93 109.92) rotate(300.01) scale(0.95 1)">
<text x="0" y="3" text-anchor="end" font-size="27" fill="#3a3a3a" font-family="'Liberation Sans', sans-serif">Самоидентификация</text>
</g>
<g transform="translate(-126.74 28.93) rotate(343.14) scale(0.95 1)">
<text x="0" y="-19.4" text-anchor="end" font-size="27" fill="#3a3a3a" font-family="'Liberation Sans', sans-serif">Интересы</text>
<text x="0" y="13" text-anchor="end" font-size="27" fill="#3a3a3a" font-family="'Liberation Sans', sans-serif">и уровень</text>
<text x="0" y="45.4" text-anchor="end" font-size="27" fill="#3a3a3a" font-family="'Liberation Sans', sans-serif">дискурса</text>
</g>
<g transform="translate(-101.64 -81.05) rotate(398.57) scale(0.95 1)">
<text x="0" y="-20.4" text-anchor="end" font-size="27" fill="#3a3a3a" font-family="'Liberation Sans', sans-serif">Культура</text>
<text x="0" y="12" text-anchor="end" font-size="27" fill="#3a3a3a" font-family="'Liberation Sans', sans-serif">Организации</text>
<text x="0" y="44.4" text-anchor="end" font-size="27" fill="#3a3a3a" font-family="'Liberation Sans', sans-serif">Деятельности</text>
</g>
<text x="-1.5" y="5.7" text-anchor="middle" font-size="27" fill="#3a3a3a" textLength="120" lengthAdjust="spacingAndGlyphs" font-family="'Liberation Sans', sans-serif">Состояние</text>
</g></defs>
<g style="--sw:13"><use href="#wheel" transform="translate(983 941) scale(0.27)"/></g>
<g style="--sw:6"><use href="#wheel" transform="translate(2532 978)"/></g>
<defs><linearGradient id="lg1" x1="0" y1="0" x2="1" y2="0"><stop offset="0" stop-color="#EE5535"/><stop offset="1" stop-color="#F6A63A"/></linearGradient>
<linearGradient id="lg2" x1="1" y1="0" x2="0" y2="1"><stop offset="0" stop-color="#D2C228"/><stop offset="1" stop-color="#F5AF35"/></linearGradient></defs>
<g id="logo1">
<path d="M2156.76 67.16A93.85 93.85 0 0 1 2192.38 63.41L2190.16 88.78A68.38 68.38 0 0 0 2164.21 91.5Z" fill="#D5DBE3"/>
<path d="M2150.83 69.97A93.12 93.12 0 0 1 2154.65 68.59L2161.12 87.91A72.75 72.75 0 0 0 2158.13 88.98Z" fill="#D5DBE3"/>
<path d="M2219.36 69.89A93.85 93.85 0 0 1 2239.36 80.98L2232.09 90.98A81.48 81.48 0 0 0 2214.72 81.35Z" fill="#D5DBE3"/>
<path d="M2241.53 83.52A93.12 93.12 0 0 1 2245.29 86.62L2236.22 97.05A79.3 79.3 0 0 0 2233.02 94.41Z" fill="#D5DBE3"/>
<path d="M2246.99 87.16A93.85 93.85 0 0 1 2268.55 115.76L2245.66 126.92A68.38 68.38 0 0 0 2229.96 106.08Z" fill="#D5DBE3"/>
<path d="M2266.61 120.21A90.21 90.21 0 0 1 2268.7 125.31L2260.52 128.37A81.48 81.48 0 0 0 2258.63 123.76Z" fill="#D5DBE3"/>
<path d="M2269.49 127.53A90.21 90.21 0 0 1 2271.13 132.79L2262.71 135.13A81.48 81.48 0 0 0 2261.24 130.37Z" fill="#D5DBE3"/>
<path d="M2271.73 135.08A90.21 90.21 0 0 1 2272.9 140.46L2264.31 142.05A81.48 81.48 0 0 0 2263.26 137.19Z" fill="#D5DBE3"/>
<path d="M2276.17 142.33A93.12 93.12 0 0 1 2269.27 194.77L2256.64 189.15A79.3 79.3 0 0 0 2262.52 144.5Z" fill="#D5DBE3"/>
<path d="M2263.79 206.63A93.85 93.85 0 0 1 2250.56 223.26L2241.81 214.51A81.48 81.48 0 0 0 2253.3 200.08Z" fill="#D5DBE3"/>
<path d="M2246.25 228.28A94.57 94.57 0 0 1 2224.17 242.61L2218.63 230.74A81.48 81.48 0 0 0 2237.65 218.39Z" fill="#D5DBE3"/>
<path d="M2207.08 248.66A94.57 94.57 0 0 1 2185.85 251.46L2185.62 238.37A81.48 81.48 0 0 0 2203.91 235.96Z" fill="#D5DBE3"/>
<path d="M2183.37 251.47A94.57 94.57 0 0 1 2181.72 251.44L2182.07 238.35A81.48 81.48 0 0 0 2183.49 238.38Z" fill="#D5DBE3"/>
<path d="M2172.05 249.22A93.12 93.12 0 0 1 2170.44 249L2172.16 237.48A81.48 81.48 0 0 0 2173.56 237.68Z" fill="#D5DBE3"/>
<path d="M2147.25 243.95A94.57 94.57 0 0 1 2128.61 233.41L2136.31 222.82A81.48 81.48 0 0 0 2152.36 231.9Z" fill="#D5DBE3"/>
<path d="M2107 208.97A93.12 93.12 0 0 1 2093.12 176.26L2117.31 171.12A68.38 68.38 0 0 0 2127.51 195.14Z" fill="#D5DBE3"/>
<path d="M2092.64 173.87A93.12 93.12 0 0 1 2091.44 165.02L2108.83 163.49A75.66 75.66 0 0 0 2109.81 170.69Z" fill="#D5DBE3"/>
<path d="M2089.64 158.55A94.57 94.57 0 0 1 2089.63 156.57L2101.27 156.61A82.93 82.93 0 0 0 2101.28 158.35Z" fill="#D5DBE3"/>
<path d="M2089.76 151.95A94.57 94.57 0 0 1 2089.86 150.3L2101.47 151.11A82.93 82.93 0 0 0 2101.38 152.56Z" fill="#D5DBE3"/>
<path d="M2090.44 144.56A94.57 94.57 0 0 1 2090.67 142.92L2102.18 144.64A82.93 82.93 0 0 0 2101.98 146.08Z" fill="#D5DBE3"/>
<path d="M2091.69 137.24A94.57 94.57 0 0 1 2092.05 135.63L2103.39 138.24A82.93 82.93 0 0 0 2103.08 139.66Z" fill="#D5DBE3"/>
<path d="M2094.92 130.45A93.12 93.12 0 0 1 2095.39 128.9L2106.49 132.4A81.48 81.48 0 0 0 2106.08 133.76Z" fill="#D5DBE3"/>
<path d="M2098.84 116.19A94.57 94.57 0 0 1 2103.14 108.19L2112.49 113.81A83.66 83.66 0 0 0 2108.69 120.88Z" fill="#D5DBE3"/>
<path d="M2175.91 78.04A79.3 79.3 0 0 1 2192.49 78.04L2191.35 88.89A68.38 68.38 0 0 0 2177.05 88.89Z" fill="#fff"/>
<path d="M2247.52 105.62A81.48 81.48 0 0 1 2258.04 122.47L2246.18 128A68.38 68.38 0 0 0 2237.34 113.86Z" fill="#fff"/>
<path d="M2116.65 202.46A81.48 81.48 0 0 1 2108.13 186.1L2120.36 181.41A68.38 68.38 0 0 0 2127.51 195.14Z" fill="#fff"/>
<path d="M2190.9 80.37A76.82 76.82 0 0 1 2222.61 90.37L2212.57 107.76A56.74 56.74 0 0 0 2189.15 100.37Z" fill="url(#lg1)"/>
<path d="M2183.4 80.08A76.82 76.82 0 0 1 2185 80.08L2184.79 100.89A56.02 56.02 0 0 0 2183.61 100.89Z" fill="#E5202A"/>
<path d="M2240.64 106.08A75.95 75.95 0 0 1 2251.26 121.24L2235.59 129.58A58.2 58.2 0 0 0 2227.45 117.96Z" fill="#1D6FB8"/>
<path d="M2252.17 123.01A75.95 75.95 0 0 1 2253.03 124.8L2236.95 132.3A58.2 58.2 0 0 0 2236.28 130.93Z" fill="#9DC41A"/>
<path d="M2254.92 126.15A77.11 77.11 0 0 1 2261.27 159.59L2240.91 158.88A56.74 56.74 0 0 0 2236.24 134.27Z" fill="#9DC41A"/>
<path d="M2261.17 161.61A77.11 77.11 0 0 1 2260.89 164.96L2240.63 162.83A56.74 56.74 0 0 0 2240.84 160.36Z" fill="#A8C520"/>
<path d="M2260.65 166.97A77.11 77.11 0 0 1 2260.14 170.29L2240.08 166.75A56.74 56.74 0 0 0 2240.46 164.31Z" fill="#B4C422"/>
<path d="M2259.77 172.27A77.11 77.11 0 0 1 2259.02 175.56L2239.26 170.63A56.74 56.74 0 0 0 2239.8 168.21Z" fill="#C2C326"/>
<path d="M2258.51 177.51A77.11 77.11 0 0 1 2230.61 218.49L2217.91 201.64A56.02 56.02 0 0 0 2238.18 171.87Z" fill="url(#lg2)"/>
<path d="M2226.2 221.57A77.11 77.11 0 0 1 2206.75 230.64L2200.58 210.47A56.02 56.02 0 0 0 2214.71 203.88Z" fill="#9CC31C"/>
<path d="M2200.23 232.33A77.11 77.11 0 0 1 2187.56 233.94L2186.64 212.86A56.02 56.02 0 0 0 2195.85 211.69Z" fill="#5AA02C"/>
<path d="M2184.74 234.74A77.84 77.84 0 0 1 2183.11 234.73L2183.42 212.91A56.02 56.02 0 0 0 2184.59 212.91Z" fill="#E5202A"/>
<path d="M2172.14 233.06A77.11 77.11 0 0 1 2168.83 232.47L2173.03 211.79A56.02 56.02 0 0 0 2175.44 212.23Z" fill="#9CC31C"/>
<path d="M2166.85 232.04A77.11 77.11 0 0 1 2157.19 229.13L2164.58 209.37A56.02 56.02 0 0 0 2171.6 211.48Z" fill="#4E9A2C"/>
<path d="M2154.69 228.14A77.11 77.11 0 0 1 2151.61 226.79L2160.53 207.67A56.02 56.02 0 0 0 2162.76 208.65Z" fill="#1D6FB8"/>
<path d="M2148.59 225.3A77.11 77.11 0 0 1 2147.4 224.67L2157.47 206.13A56.02 56.02 0 0 0 2158.33 206.59Z" fill="#E5202A"/>
<path d="M2141.89 219.62A75.66 75.66 0 0 1 2140.8 218.88L2152.07 202.79A56.02 56.02 0 0 0 2152.88 203.34Z" fill="#1D6FB8"/>
<path d="M2127.43 208.01A76.39 76.39 0 0 1 2114.42 187.97L2131.03 180.57A58.2 58.2 0 0 0 2140.95 195.84Z" fill="#1D6FB8"/>
<path d="M2107.09 156.9A77.11 77.11 0 0 1 2107.1 155.29L2128.2 155.73A56.02 56.02 0 0 0 2128.18 156.9Z" fill="#1D6FB8"/>
<path d="M2107.2 152.73A77.11 77.11 0 0 1 2107.3 151.12L2128.34 152.7A56.02 56.02 0 0 0 2128.27 153.87Z" fill="#1C8FD6"/>
<path d="M2107.54 148.57A77.11 77.11 0 0 1 2107.73 146.97L2128.65 149.69A56.02 56.02 0 0 0 2128.51 150.85Z" fill="#35A8E0"/>
<path d="M2108.1 144.44A77.11 77.11 0 0 1 2108.74 141L2129.39 145.35A56.02 56.02 0 0 0 2128.92 147.85Z" fill="#3F8FCF"/>
<path d="M2108.89 140.34A77.11 77.11 0 0 1 2109.71 136.94L2130.09 142.4A56.02 56.02 0 0 0 2129.49 144.87Z" fill="#4A6FB5"/>
<path d="M2109.89 136.29A77.11 77.11 0 0 1 2110.9 132.94L2130.96 139.5A56.02 56.02 0 0 0 2130.22 141.93Z" fill="#5457A5"/>
<path d="M2111.11 132.3A77.11 77.11 0 0 1 2112.31 129.01L2131.97 136.64A56.02 56.02 0 0 0 2131.11 139.03Z" fill="#5B3F99"/>
<path d="M2114.64 125.34A76.39 76.39 0 0 1 2115.26 124.02L2132.98 132.47A56.74 56.74 0 0 0 2132.52 133.46Z" fill="#E5202A"/>
<path d="M2117.26 120.1A76.39 76.39 0 0 1 2117.98 118.82L2135.01 128.61A56.74 56.74 0 0 0 2134.48 129.56Z" fill="#E5202A"/>
<path d="M2120.58 114.63A76.39 76.39 0 0 1 2121.4 113.42L2137.55 124.6A56.74 56.74 0 0 0 2136.94 125.5Z" fill="#E5202A"/>
<path d="M2124.92 108.73A76.39 76.39 0 0 1 2125.86 107.6L2140.86 120.27A56.74 56.74 0 0 0 2140.16 121.11Z" fill="#E5202A"/>
<path d="M2129.44 103.65A76.39 76.39 0 0 1 2130.47 102.6L2144.29 116.57A56.74 56.74 0 0 0 2143.52 117.34Z" fill="#E5202A"/>
<path d="M2137.17 96.71A76.39 76.39 0 0 1 2144.86 91.42L2154.97 108.26A56.74 56.74 0 0 0 2149.27 112.19Z" fill="#A0218C"/>
<path d="M2139.79 73.73A94.28 94.28 0 0 1 2141.25 72.97L2152.78 95.51A68.97 68.97 0 0 0 2151.72 96.06Z" fill="#E5202A"/>
<path d="M2190.32 113.39A43.94 43.94 0 0 1 2206.17 118.85L2203.7 123.13A38.99 38.99 0 0 0 2189.63 118.29Z" fill="#F0823C"/>
<path d="M2184.2 113.25A43.65 43.65 0 0 1 2185.11 113.26L2185.02 117.92A38.99 38.99 0 0 0 2184.2 117.91Z" fill="#F0823C"/>
<path d="M2214.72 125.29A43.94 43.94 0 0 1 2218.35 129.25L2214.5 132.36A38.99 38.99 0 0 0 2211.29 128.85Z" fill="#F59B3A"/>
<path d="M2219.29 130.46A43.94 43.94 0 0 1 2220.19 131.7L2216.14 134.53A38.99 38.99 0 0 0 2215.34 133.43Z" fill="#F59B3A"/>
<path d="M2221.05 132.97A43.94 43.94 0 0 1 2223 136.27L2218.63 138.59A38.99 38.99 0 0 0 2216.9 135.66Z" fill="#F59B3A"/>
<path d="M2224.02 138.33A43.94 43.94 0 0 1 2228.03 159.97L2223.1 159.62A38.99 38.99 0 0 0 2219.54 140.42Z" fill="#F6A834"/>
<path d="M2227.94 161.11A43.94 43.94 0 0 1 2227.81 162.25L2222.9 161.65A38.99 38.99 0 0 0 2223.01 160.64Z" fill="#F6A834"/>
<path d="M2227.66 163.39A43.94 43.94 0 0 1 2227.47 164.53L2222.6 163.67A38.99 38.99 0 0 0 2222.76 162.66Z" fill="#F6A834"/>
<path d="M2227.26 165.66A43.94 43.94 0 0 1 2206.17 194.95L2203.7 190.67A38.99 38.99 0 0 0 2222.41 164.67Z" fill="#F6A834"/>
<path d="M2203.46 196.39A43.94 43.94 0 0 1 2195.57 199.34L2194.29 194.56A38.99 38.99 0 0 0 2201.29 191.95Z" fill="#F59B3A"/>
<path d="M2191.07 200.3A43.94 43.94 0 0 1 2181.9 200.78L2182.16 195.84A38.99 38.99 0 0 0 2190.3 195.41Z" fill="#F59B3A"/>
<path d="M2173.57 199.53A43.94 43.94 0 0 1 2162.9 195.33L2165.3 191A38.99 38.99 0 0 0 2174.77 194.73Z" fill="#F3903A"/>
<path d="M2160.27 193.75A43.94 43.94 0 0 1 2159.63 193.33L2162.4 189.23A38.99 38.99 0 0 0 2162.96 189.6Z" fill="#F3903A"/>
<path d="M2157.15 191.53A43.94 43.94 0 0 1 2156.55 191.05L2159.66 187.2A38.99 38.99 0 0 0 2160.19 187.63Z" fill="#F3903A"/>
<path d="M2147.77 181.47A43.94 43.94 0 0 1 2143.46 173.36L2148.05 171.51A38.99 38.99 0 0 0 2151.87 178.7Z" fill="#EF6A3A"/>
<path d="M2140.55 156.9A43.65 43.65 0 0 1 2140.69 153.48L2146.2 153.91A38.12 38.12 0 0 0 2146.08 156.9Z" fill="#E8312A"/>
<path d="M2140.88 151.58A43.65 43.65 0 0 1 2141.43 148.2L2146.85 149.3A38.12 38.12 0 0 0 2146.36 152.25Z" fill="#E8312A"/>
<path d="M2141.85 146.34A43.65 43.65 0 0 1 2142.81 143.05L2148.05 144.8A38.12 38.12 0 0 0 2147.21 147.68Z" fill="#E8312A"/>
<path d="M2143.45 141.26A43.65 43.65 0 0 1 2144.8 138.11L2149.79 140.49A38.12 38.12 0 0 0 2148.61 143.24Z" fill="#E8312A"/>
<path d="M2145.66 136.41A43.65 43.65 0 0 1 2146.02 135.74L2150.86 138.42A38.12 38.12 0 0 0 2150.54 139Z" fill="#E8312A"/>
<path d="M2147.59 133.13A43.65 43.65 0 0 1 2148.01 132.49L2152.6 135.58A38.12 38.12 0 0 0 2152.23 136.14Z" fill="#E8312A"/>
<path d="M2149.8 130.03A43.65 43.65 0 0 1 2150.28 129.43L2154.58 132.91A38.12 38.12 0 0 0 2154.16 133.43Z" fill="#E8312A"/>
<path d="M2152.28 127.13A43.65 43.65 0 0 1 2152.8 126.58L2156.78 130.42A38.12 38.12 0 0 0 2156.32 130.9Z" fill="#E8312A"/>
<path d="M2157.33 122.5A43.65 43.65 0 0 1 2161.07 119.88L2164 124.57A38.12 38.12 0 0 0 2160.73 126.86Z" fill="#E8312A"/>
<path d="M2160.93 157.71A23.28 23.28 0 0 1 2183.39 133.63L2183.54 138A18.91 18.91 0 0 0 2165.3 157.56Z" fill="#F7A823"/>
<path d="M2185.42 133.65A23.28 23.28 0 0 1 2187.84 133.91L2187.16 138.22A18.91 18.91 0 0 0 2185.19 138.01Z" fill="#F7A823"/>
<path d="M2191.39 134.76A23.28 23.28 0 0 1 2196.54 137.16L2194.22 140.86A18.91 18.91 0 0 0 2190.04 138.91Z" fill="#F7A823"/>
<path d="M2200.37 140.15A23.28 23.28 0 0 1 2204.36 145.26L2200.58 147.44A18.91 18.91 0 0 0 2197.34 143.29Z" fill="#F5A030"/>
<path d="M2204.75 145.97A23.28 23.28 0 0 1 2205.12 146.69L2201.2 148.61A18.91 18.91 0 0 0 2200.9 148.02Z" fill="#F5A030"/>
<path d="M2205.63 147.8A23.28 23.28 0 0 1 2205.93 148.56L2201.86 150.12A18.91 18.91 0 0 0 2201.61 149.51Z" fill="#F5A030"/>
<path d="M2207.31 154.06A23.28 23.28 0 0 1 2207.31 159.74L2201.24 158.99A17.17 17.17 0 0 0 2201.24 154.81Z" fill="#EE5A36"/>
<path d="M2203.27 170.25A23.28 23.28 0 0 1 2195.84 177.06L2192.78 171.77A17.17 17.17 0 0 0 2198.26 166.75Z" fill="#EE5A36"/>
<path d="M2194.77 177.64A23.28 23.28 0 0 1 2194.33 177.86L2191.67 172.36A17.17 17.17 0 0 0 2191.99 172.2Z" fill="#E8312A"/>
<path d="M2193.3 178.33A23.28 23.28 0 0 1 2192.85 178.51L2190.58 172.84A17.17 17.17 0 0 0 2190.91 172.7Z" fill="#E8312A"/>
<path d="M2191.78 178.91A23.28 23.28 0 0 1 2191.32 179.07L2189.45 173.25A17.17 17.17 0 0 0 2189.79 173.13Z" fill="#E8312A"/>
<path d="M2190.23 179.39A23.28 23.28 0 0 1 2189.75 179.51L2188.3 173.57A17.17 17.17 0 0 0 2188.64 173.48Z" fill="#E8312A"/>
<path d="M2188.64 179.75A23.28 23.28 0 0 1 2188.16 179.84L2187.12 173.82A17.17 17.17 0 0 0 2187.48 173.75Z" fill="#E8312A"/>
<path d="M2185.82 180.12A23.28 23.28 0 0 1 2183.79 180.18L2183.9 174.07A17.17 17.17 0 0 0 2185.4 174.03Z" fill="#E8312A"/>
<path d="M2168.62 174.2A23.28 23.28 0 0 1 2162.32 164.86L2168.07 162.77A17.17 17.17 0 0 0 2172.71 169.66Z" fill="#EE5A36"/>
<path d="M2170.85 175.97A23.28 23.28 0 0 1 2170.35 175.61L2173.99 170.7A17.17 17.17 0 0 0 2174.35 170.96Z" fill="#EE5A36"/>
<path d="M2161.82 163.32A23.28 23.28 0 0 1 2161.43 161.74L2165.7 160.83A18.91 18.91 0 0 0 2166.02 162.11Z" fill="#F5A030"/>
<path d="M2161.27 160.94A23.28 23.28 0 0 1 2160.98 158.52L2165.33 158.22A18.91 18.91 0 0 0 2165.57 160.18Z" fill="#F5A030"/>
</g>
<text x="2301.5" y="165.5" font-size="57" fill="#3F4347" stroke="#3F4347" stroke-width="0.9" textLength="299" lengthAdjust="spacingAndGlyphs" font-family="'Liberation Sans', sans-serif">Остров 10-21</text>
<rect x="2301" y="180.8" width="121.5" height="1.8" fill="#E30613"/>
<text x="2301.5" y="209.5" font-size="22" fill="#3F4347" textLength="170.5" lengthAdjust="spacingAndGlyphs" font-family="'Liberation Sans', sans-serif">Университет НТИ</text>
<text x="2694.5" y="174.9" font-size="118.5" font-weight="bold" fill="#D0181B" stroke="#D0181B" stroke-width="3" stroke-linejoin="round" textLength="251" lengthAdjust="spacingAndGlyphs" font-family="'Liberation Sans', sans-serif">20.35</text>
<text x="2694" y="208.7" font-size="30.8" fill="#111" stroke="#111" stroke-width="0.5" textLength="252.5" lengthAdjust="spacingAndGlyphs" font-family="'Liberation Sans', sans-serif">УНИВЕРСИТЕТ НТИ</text>
<text x="2946.7" y="229.2" font-size="14.8" fill="#D0181B" text-anchor="end" textLength="71" lengthAdjust="spacingAndGlyphs" font-family="'Liberation Sans', sans-serif">#edu2035</text>
</svg>
</body></html>
